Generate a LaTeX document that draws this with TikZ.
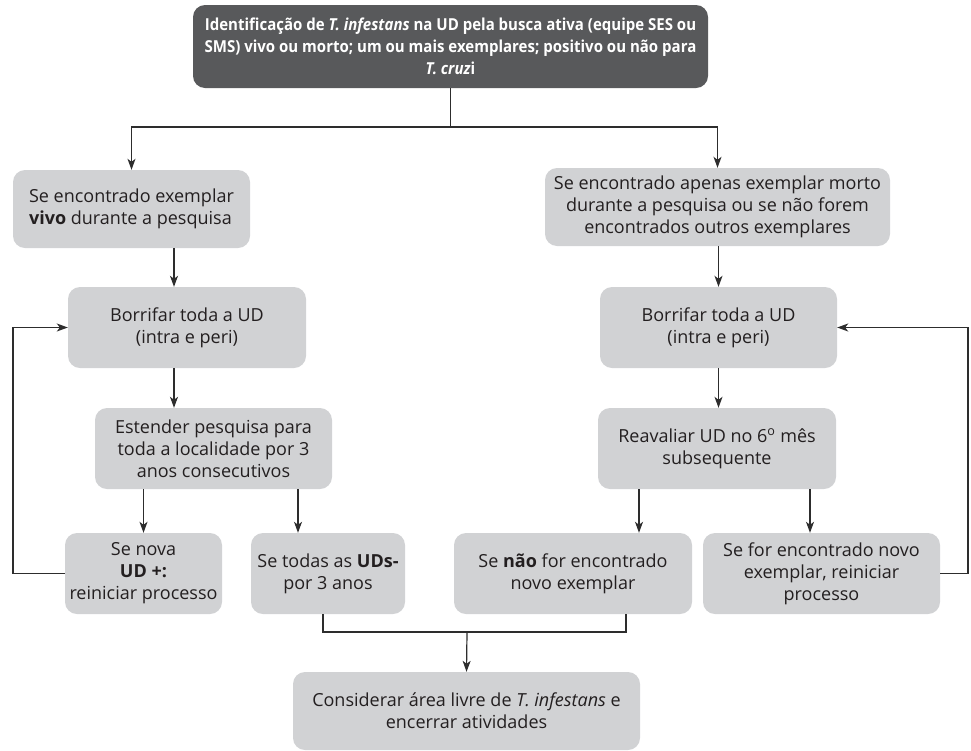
\documentclass[tikz,border=0pt]{standalone}
\usepackage{fontspec}
\setmainfont{Open Sans}
\newfontfamily\headfont{Open Sans}[FakeStretch=0.91]
\usepackage{tikz}
\usetikzlibrary{positioning,arrows.meta,calc}
\definecolor{boxfill}{RGB}{209,210,212}
\definecolor{topfill}{RGB}{88,89,91}
\definecolor{ink}{RGB}{35,31,32}
\definecolor{wire}{RGB}{45,45,45}
\tikzset{
  box/.style    = {rounded corners=12pt, fill=boxfill, align=center, text=ink, inner sep=2pt,
                   font=\fontsize{18}{22}\selectfont},
  topbox/.style = {rounded corners=12pt, fill=topfill, align=center, text=white, inner sep=2pt,
                   font=\headfont\fontsize{16.5}{22}\selectfont\bfseries},
  line/.style   = {draw=wire, line width=1.2pt},
  flow/.style   = {line, -{Stealth[length=11pt,width=8pt,inset=3pt]}},
}
\begin{document}
\begin{tikzpicture}[x=1pt,y=-1pt]
  \useasboundingbox (0,0) rectangle (971,750);
  % start
  \node[topbox, minimum width=515pt, minimum height=83pt] (top) at (450.5,46.5)
    {Identificação de \textit{T. infestans} na UD pela busca ativa (equipe SES ou\\
     SMS) vivo ou morto; um ou mais exemplares; positivo ou não para\\ \textit{T. cruz}i};
  % two cases
  \node[box, minimum width=237pt, minimum height=78pt, align=left] (vivo) at (131.5,209)
    {Se encontrado exemplar\\ \textbf{vivo} durante a pesquisa};
  \node[box, minimum width=345pt, minimum height=78pt] (morto) at (717.5,207)
    {Se encontrado apenas exemplar morto\\ durante a pesquisa ou se não forem\\ encontrados outros exemplares};
  % left branch
  \node[box, minimum width=238pt, minimum height=81pt] (borrL) at (187,327.5)
    {Borrifar toda a UD\\ (intra e peri)};
  \node[box, minimum width=237pt, minimum height=81pt] (estender) at (213.5,448.5)
    {Estender pesquisa para\\ toda a localidade por 3\\ anos consecutivos};
  \node[box, minimum width=157pt, minimum height=81pt] (novaUD) at (143.5,573.5)
    {Se nova\\ \textbf{UD +:}\\ reiniciar processo};
  \node[box, minimum width=154pt, minimum height=81pt] (todas) at (328,573.5)
    {Se todas as \textbf{UDs-}\\ por 3 anos};
  % right branch
  \node[box, minimum width=237pt, minimum height=81pt] (borrR) at (718.5,327.5)
    {Borrifar toda a UD\\ (intra e peri)};
  \node[box, minimum width=238pt, minimum height=81pt] (reaval) at (717,448.5)
    {Reavaliar UD no 6\textsuperscript{o} mês\\ subsequente};
  \node[box, minimum width=238pt, minimum height=81pt] (naoenc) at (573,573.5)
    {Se \textbf{não} for encontrado\\ novo exemplar};
  \node[box, minimum width=237pt, minimum height=81pt] (novoex) at (821.5,573.5)
    {Se for encontrado novo\\ exemplar, reiniciar\\ processo};
  % end
  \node[box, minimum width=347pt, minimum height=78pt] (livre) at (466.5,711)
    {Considerar área livre de \textit{T. infestans} e\\ encerrar atividades};

  % helper points
  \coordinate (fork) at (450.5,127);
  \coordinate (join) at (467,632);
  \coordinate (xL)  at (174,0);
  \coordinate (xT)  at (298,0);
  \coordinate (xN)  at (639,0);
  \coordinate (xF)  at (810,0);
  \coordinate (jL)  at (323,0);
  \coordinate (jR)  at (626,0);
  \coordinate (fbL) at (13,0);
  \coordinate (fbR) at (968,0);

  \draw[line] (top.south) -- (fork);
  \draw[flow] (fork) -| (vivo.north);
  \draw[flow] (fork) -| (morto.north);
  \draw[flow] (vivo.south -| xL) -- (borrL.north -| xL);
  \draw[flow] (borrL.south -| xL) -- (estender.north -| xL);
  \draw[flow] (estender.south -| novaUD.north) -- (novaUD.north);
  \draw[flow] (estender.south -| xT) -- (todas.north -| xT);
  \draw[flow] (novaUD.west) -| (fbL |- borrL.west) -- (borrL.west);
  \draw[flow] (morto.south -| borrR.north) -- (borrR.north);
  \draw[flow] (borrR.south) -- (borrR.south |- reaval.north);
  \draw[flow] (reaval.south -| xN) -- (naoenc.north -| xN);
  \draw[flow] (reaval.south -| xF) -- (novoex.north -| xF);
  \draw[flow] (novoex.east) -| (fbR |- borrR.east) -- (borrR.east);
  \draw[line] (todas.south -| jL) |- (join);
  \draw[line] (naoenc.south -| jR) |- (join);
  \draw[flow] (join) -- (livre.north);
\end{tikzpicture}
\end{document}
